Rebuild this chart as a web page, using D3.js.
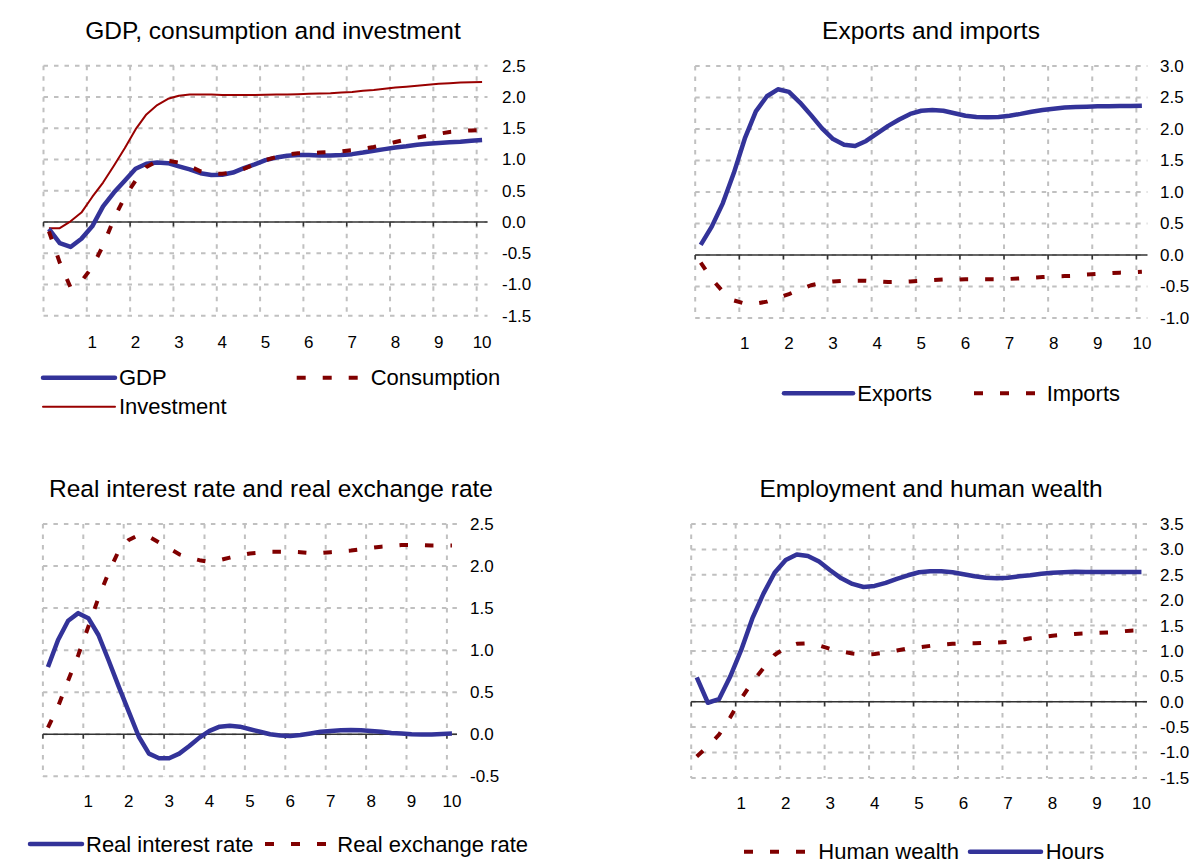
<!DOCTYPE html>
<html>
<head>
<meta charset="utf-8">
<script src="https://cdn.jsdelivr.net/npm/d3@7"></script>
<style>
  body { margin: 0; background: #fff; }
  svg text { font-family: "Liberation Sans", Arial, sans-serif; fill: #000; }
</style>
</head>
<body>
<script>
// quarters 0..40, labelled in years at every 4th quarter
const quarters = d3.range(41);
const yearTicks = [4, 8, 12, 16, 20, 24, 28, 32, 36, 40];

// GDP, consumption and investment
const gdp = [-0.11, -0.34, -0.40, -0.27, -0.07, 0.25, 0.47, 0.66, 0.85, 0.93, 0.95, 0.94, 0.89, 0.84, 0.78, 0.75, 0.755, 0.79, 0.86, 0.92,
  0.99, 1.03, 1.06, 1.07, 1.07, 1.065, 1.065, 1.07, 1.085, 1.11, 1.14, 1.165, 1.19, 1.21, 1.235, 1.25, 1.265, 1.275, 1.285, 1.30, 1.31];
const consumption = [-0.15, -0.65, -1.05, -0.95, -0.72, -0.38, 0.05, 0.40, 0.66, 0.88, 0.97, 0.98, 0.95, 0.89, 0.81, 0.77, 0.77, 0.79, 0.85, 0.92,
  0.99, 1.04, 1.08, 1.10, 1.10, 1.11, 1.12, 1.13, 1.15, 1.17, 1.20, 1.24, 1.28, 1.32, 1.35, 1.38, 1.41, 1.44, 1.455, 1.465, 1.47];
const investment = [-0.10, -0.10, 0.01, 0.15, 0.40, 0.63, 0.90, 1.18, 1.48, 1.72, 1.87, 1.97, 2.02, 2.04, 2.04, 2.04, 2.03, 2.03, 2.03, 2.03,
  2.035, 2.04, 2.04, 2.045, 2.05, 2.055, 2.06, 2.07, 2.08, 2.10, 2.11, 2.13, 2.15, 2.165, 2.18, 2.195, 2.21, 2.22, 2.23, 2.235, 2.24];

// Exports and imports
const exportsSeries = [0.16, 0.45, 0.82, 1.30, 1.85, 2.28, 2.52, 2.63, 2.59, 2.42, 2.22, 2.01, 1.84, 1.75, 1.73, 1.81, 1.93, 2.05, 2.15, 2.24,
  2.29, 2.30, 2.29, 2.25, 2.21, 2.19, 2.185, 2.19, 2.21, 2.24, 2.275, 2.30, 2.32, 2.34, 2.35, 2.355, 2.36, 2.36, 2.365, 2.365, 2.37];
const importsSeries = [-0.12, -0.38, -0.58, -0.72, -0.77, -0.77, -0.74, -0.68, -0.62, -0.55, -0.48, -0.44, -0.42, -0.41, -0.41, -0.41, -0.42, -0.43, -0.43, -0.42,
  -0.41, -0.40, -0.39, -0.39, -0.385, -0.385, -0.385, -0.385, -0.38, -0.37, -0.36, -0.35, -0.34, -0.335, -0.33, -0.31, -0.30, -0.29, -0.28, -0.275, -0.265];

// Real interest rate and real exchange rate
const realInterest = [0.80, 1.12, 1.35, 1.44, 1.38, 1.18, 0.88, 0.57, 0.27, -0.03, -0.23, -0.285, -0.285, -0.23, -0.14, -0.04, 0.04, 0.09, 0.10, 0.09,
  0.06, 0.03, 0.0, -0.015, -0.02, -0.01, 0.01, 0.03, 0.04, 0.048, 0.05, 0.048, 0.04, 0.03, 0.016, 0.01, 0.0, -0.004, -0.004, 0.004, 0.008];
const realExchange = [0.08, 0.33, 0.64, 0.94, 1.28, 1.62, 1.92, 2.18, 2.31, 2.37, 2.35, 2.28, 2.21, 2.14, 2.10, 2.07, 2.05, 2.07, 2.10, 2.13,
  2.15, 2.16, 2.17, 2.17, 2.17, 2.165, 2.155, 2.155, 2.165, 2.175, 2.185, 2.20, 2.215, 2.23, 2.24, 2.25, 2.25, 2.25, 2.245, 2.245, 2.245];

// Employment and human wealth
const humanWealth = [-1.08, -0.88, -0.65, -0.31, 0.06, 0.39, 0.66, 0.92, 1.07, 1.14, 1.15, 1.11, 1.04, 0.99, 0.95, 0.93, 0.94, 0.97, 1.01, 1.05,
  1.07, 1.10, 1.12, 1.14, 1.15, 1.15, 1.16, 1.165, 1.18, 1.21, 1.25, 1.27, 1.30, 1.32, 1.335, 1.345, 1.355, 1.365, 1.38, 1.40, 1.41];
const hours = [0.48, -0.02, 0.05, 0.49, 1.02, 1.64, 2.13, 2.54, 2.79, 2.90, 2.87, 2.76, 2.59, 2.43, 2.32, 2.26, 2.28, 2.34, 2.42, 2.49,
  2.55, 2.57, 2.57, 2.55, 2.51, 2.47, 2.44, 2.43, 2.44, 2.47, 2.49, 2.52, 2.54, 2.55, 2.56, 2.555, 2.555, 2.555, 2.555, 2.555, 2.555];

const BLUE = "#333399", RED = "#800000", INV = "#990000";

const svg = d3.select("body").append("svg")
    .attr("width", 1195)
    .attr("height", 865);

const styles = {
  solid: {stroke: BLUE, width: 4.5, dash: null},
  dashed: {stroke: RED, width: 4, dash: "8.5,17"},
  thin: {stroke: INV, width: 2, dash: null}
};

function drawPanel(p) {
  var g = svg.append("g");

  var x = d3.scaleBand().domain(quarters).range([p.left, p.right]).padding(0);
  var y = d3.scaleLinear().domain(p.domain).range([p.bottom, p.top]);

  var yVals = d3.range(Math.round(p.domain[0] * 2), Math.round(p.domain[1] * 2) + 1).map(function(k) { return k / 2; });
  var gridX = [0].concat(yearTicks);

  // dotted grid
  g.append("g").selectAll("line.h").data(yVals).enter().append("line")
      .attr("x1", p.left).attr("x2", p.right)
      .attr("y1", function(d) { return y(d); }).attr("y2", function(d) { return y(d); })
      .attr("stroke", "#c0c0c0").attr("stroke-width", 2).attr("stroke-dasharray", "4.5,6");
  g.append("g").selectAll("line.v").data(gridX).enter().append("line")
      .attr("x1", function(d) { return x(d); }).attr("x2", function(d) { return x(d); })
      .attr("y1", p.top).attr("y2", p.bottom)
      .attr("stroke", "#c0c0c0").attr("stroke-width", 2).attr("stroke-dasharray", "4.5,6");

  // zero axis with ticks
  g.append("line")
      .attr("x1", p.left).attr("x2", p.right)
      .attr("y1", y(0)).attr("y2", y(0))
      .attr("stroke", "#333").attr("stroke-width", 1.5);
  g.append("g").selectAll("line").data(gridX).enter().append("line")
      .attr("x1", function(d) { return x(d); }).attr("x2", function(d) { return x(d); })
      .attr("y1", y(0)).attr("y2", y(0) + 4.5)
      .attr("stroke", "#333").attr("stroke-width", 1.5);

  // y labels on the right
  var yAxis = d3.axisRight(y).tickValues(yVals).tickSize(0).tickPadding(0)
      .tickFormat(function(d) { return d.toFixed(1); });
  var ya = g.append("g").attr("transform", "translate(" + p.labelX + ",0)").call(yAxis);
  ya.select(".domain").remove();
  ya.selectAll("text").attr("font-size", 17).attr("font-family", null).attr("fill", "#000");

  // x labels (years)
  var xAxis = d3.axisBottom(x).tickValues(yearTicks).tickSize(0).tickPadding(0)
      .tickFormat(function(d) { return String(d / 4); });
  var xa = g.append("g").attr("transform", "translate(0," + p.xLabelY + ")").call(xAxis);
  xa.select(".domain").remove();
  xa.selectAll("text").attr("font-size", 17).attr("font-family", null).attr("fill", "#000").attr("dy", "0.35em").attr("y", 0);

  // series
  var line = d3.line()
      .x(function(d, i) { return x(i) + x.bandwidth() / 2; })
      .y(function(d) { return y(d); });
  p.series.forEach(function(s) {
    var st = styles[s.style];
    g.append("path").datum(s.values)
        .attr("d", line)
        .attr("fill", "none")
        .attr("stroke", st.stroke)
        .attr("stroke-width", st.width)
        .attr("stroke-dasharray", st.dash)
        .attr("stroke-linejoin", "round");
  });

  // title
  g.append("text").attr("x", p.titleX).attr("y", p.titleY)
      .attr("text-anchor", "middle").attr("font-size", 24.5).text(p.title);

  // legend
  p.legend.forEach(function(l) {
    var st = styles[l.style];
    g.append("line")
        .attr("x1", l.x).attr("x2", l.x + l.len)
        .attr("y1", l.y).attr("y2", l.y)
        .attr("stroke", st.stroke)
        .attr("stroke-width", st.width)
        .attr("stroke-dasharray", l.style === "dashed" ? "9,17" : null)
        .attr("stroke-linecap", l.style === "dashed" ? "butt" : "round");
    g.append("text").attr("x", l.tx).attr("y", l.y).attr("dy", "0.35em")
        .attr("font-size", 22).text(l.label);
  });
}

drawPanel({
  title: "GDP, consumption and investment", titleX: 273, titleY: 39,
  left: 43.5, right: 487.5, top: 65.7, bottom: 315.7, domain: [-1.5, 2.5],
  labelX: 502, xLabelY: 342,
  series: [
    {values: investment, style: "thin"},
    {values: gdp, style: "solid"},
    {values: consumption, style: "dashed"}
  ],
  legend: [
    {label: "GDP", style: "solid", x: 43, len: 72, tx: 119, y: 377.7},
    {label: "Consumption", style: "dashed", x: 296.7, len: 61, tx: 370.7, y: 377.7},
    {label: "Investment", style: "thin", x: 43, len: 72, tx: 119, y: 406.7}
  ]
});

drawPanel({
  title: "Exports and imports", titleX: 931, titleY: 39,
  left: 695.2, right: 1147.4, top: 66, bottom: 318, domain: [-1, 3],
  labelX: 1160, xLabelY: 343,
  series: [
    {values: exportsSeries, style: "solid"},
    {values: importsSeries, style: "dashed"}
  ],
  legend: [
    {label: "Exports", style: "solid", x: 784, len: 69, tx: 857.3, y: 393.3},
    {label: "Imports", style: "dashed", x: 974, len: 61, tx: 1046.7, y: 393.3}
  ]
});

drawPanel({
  title: "Real interest rate and real exchange rate", titleX: 271, titleY: 497,
  left: 42.9, right: 457, top: 524, bottom: 776.3, domain: [-0.5, 2.5],
  labelX: 470, xLabelY: 801,
  series: [
    {values: realInterest, style: "solid"},
    {values: realExchange, style: "dashed"}
  ],
  legend: [
    {label: "Real interest rate", style: "solid", x: 30, len: 52, tx: 86, y: 844},
    {label: "Real exchange rate", style: "dashed", x: 265, len: 61, tx: 337.3, y: 844}
  ]
});

drawPanel({
  title: "Employment and human wealth", titleX: 931, titleY: 497,
  left: 691.2, right: 1147, top: 524, bottom: 777.9, domain: [-1.5, 3.5],
  labelX: 1160, xLabelY: 803,
  series: [
    {values: hours, style: "solid"},
    {values: humanWealth, style: "dashed"}
  ],
  legend: [
    {label: "Human wealth", style: "dashed", x: 744, len: 61, tx: 818.3, y: 851.7},
    {label: "Hours", style: "solid", x: 970, len: 71, tx: 1045.7, y: 851.7}
  ]
});
</script>
</body>
</html>
